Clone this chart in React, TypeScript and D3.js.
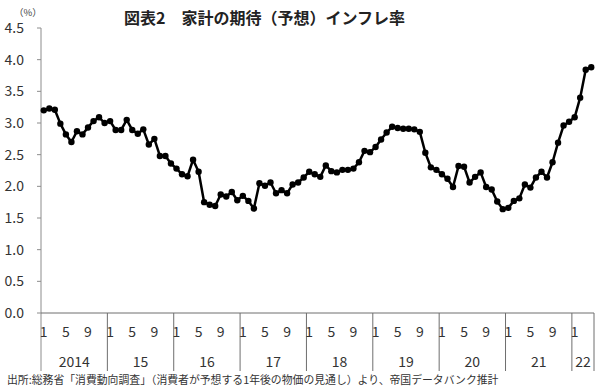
import React from "react";
import * as d3 from "d3";

const years = ["2014", "15", "16", "17", "18", "19", "20", "21", "22"];
const monthsPerYear = [12, 12, 12, 12, 12, 12, 12, 12, 4];
const monthTickLabels = ["1", "5", "9"];
const yTicks = [0, 0.5, 1.0, 1.5, 2.0, 2.5, 3.0, 3.5, 4.0, 4.5];

const v2014 = [3.20, 3.23, 3.21, 2.99, 2.82, 2.70, 2.87, 2.82, 2.93, 3.03, 3.09, 3.00];
const v2015 = [3.03, 2.89, 2.89, 3.05, 2.89, 2.83, 2.90, 2.66, 2.75, 2.48, 2.48, 2.36];
const v2016 = [2.28, 2.19, 2.16, 2.42, 2.23, 1.75, 1.71, 1.69, 1.87, 1.84, 1.91, 1.78];
const v2017 = [1.85, 1.77, 1.65, 2.05, 2.01, 2.06, 1.89, 1.94, 1.89, 2.03, 2.06, 2.14];
const v2018 = [2.23, 2.19, 2.15, 2.33, 2.24, 2.22, 2.26, 2.26, 2.28, 2.38, 2.56, 2.54];
const v2019 = [2.62, 2.74, 2.85, 2.94, 2.92, 2.91, 2.91, 2.90, 2.86, 2.53, 2.30, 2.26];
const v2020 = [2.19, 2.12, 1.99, 2.32, 2.31, 2.06, 2.15, 2.22, 1.99, 1.95, 1.76, 1.64];
const v2021 = [1.66, 1.77, 1.81, 2.03, 1.98, 2.14, 2.23, 2.14, 2.38, 2.69, 2.96, 3.02];
const v2022 = [3.09, 3.40, 3.84, 3.88];

const values = [...v2014, ...v2015, ...v2016, ...v2017, ...v2018, ...v2019, ...v2020, ...v2021, ...v2022];

const title = "図表2　家計の期待（予想）インフレ率";
const source = "出所:総務省「消費動向調査」（消費者が予想する1年後の物価の見通し）より、帝国データバンク推計";

const W = 600, H = 387;
const left = 41, right = 594, top = 28, bottom = 313;
const FONT = "'Noto Sans CJK JP', 'Noto Sans', sans-serif";

export default function App() {
  const n = values.length;
  const x = d3.scaleLinear().domain([0, n]).range([left, right]);
  const y = d3.scaleLinear().domain([0, 4.5]).range([bottom, top]);
  const line = d3.line<number>().x((_, i) => x(i + 0.5)).y((d) => y(d));

  const starts: number[] = [];
  let acc = 0;
  monthsPerYear.forEach((m) => { starts.push(acc); acc += m; });

  return (
    <div style={{ position: "absolute", left: 0, top: 0 }}>
      <svg width={W} height={H} style={{ display: "block", background: "#fff" }} fontFamily={FONT}>
        <rect width={W} height={H} fill="#fff" />
        <text x={124} y={24} fontSize={16} fontWeight="bold" fill="#222">{title}</text>
        <text x={14} y={16} fontSize={9.5} fill="#444">（%）</text>
        <line x1={left} x2={left} y1={top} y2={371} stroke="#8c8c8c" strokeWidth={1} />
        {yTicks.map((t) => (
          <g key={t}>
            <line x1={left - 4} x2={left} y1={y(t)} y2={y(t)} stroke="#8c8c8c" />
            <text x={24} y={y(t) + 5} fontSize={14} textAnchor="end" fill="#333">{t.toFixed(1)}</text>
          </g>
        ))}
        <line x1={left} x2={right} y1={bottom} y2={bottom} stroke="#6e6e6e" strokeWidth={1} />
        {starts.map((s, k) => (
          <g key={k}>
            {k > 0 && <line x1={x(s)} x2={x(s)} y1={bottom} y2={371} stroke="#6e6e6e" />}
            {monthTickLabels.filter((m) => +m <= monthsPerYear[k]).map((m) => (
              <text key={m} x={x(s + +m - 0.5)} y={337} fontSize={14} textAnchor="middle" fill="#333">{m}</text>
            ))}
            <text x={x(s + monthsPerYear[k] / 2)} y={367} fontSize={14} textAnchor="middle" fill="#333">{years[k]}</text>
          </g>
        ))}
        <line x1={right} x2={right} y1={bottom} y2={371} stroke="#6e6e6e" />
        <path d={line(values) || ""} fill="none" stroke="#000" strokeWidth={2.5} strokeLinejoin="round" />
        {values.map((v, i) => (
          <circle key={i} cx={x(i + 0.5)} cy={y(v)} r={3.2} fill="#000" />
        ))}
        <text x={7} y={384} fontSize={10.85} fill="#333">{source}</text>
      </svg>
    </div>
  );
}
